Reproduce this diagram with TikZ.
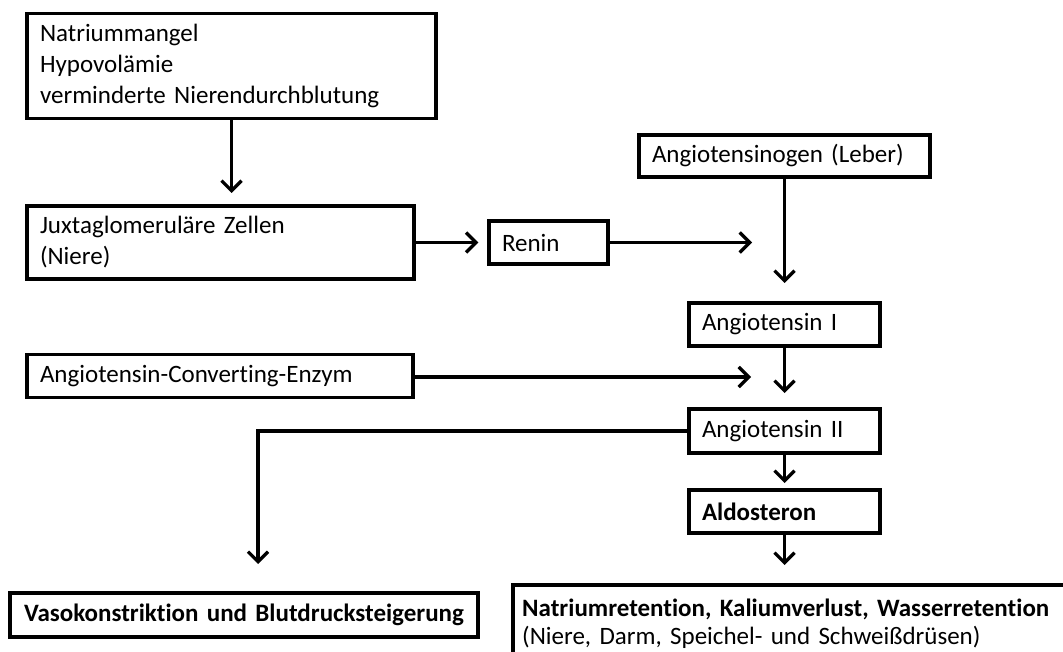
\documentclass[tikz,border=0pt]{standalone}
\usepackage{fontspec}
\setmainfont{Carlito}[Ligatures=CommonOff]
\usetikzlibrary{arrows.meta}
\tikzset{
  box/.style={draw, line width=3.2pt, inner xsep=13pt, inner ysep=0pt, align=left,
              font=\fontsize{25}{31}\selectfont},
  conn/.style={line width=3.3pt, -{Straight Barb[length=10pt,width=20pt]}},
  edge/.style={line width=3.2pt}
}
\begin{document}
\begin{tikzpicture}[x=1pt,y=-1pt]
\useasboundingbox (0,0) rectangle (1063,652);
\clip (0,0) rectangle (1063,652);
\fill[white] (0,0) rectangle (1063,652);

\node[box, minimum width=409, minimum height=105, text width=383] (b1) at (231.5,66)
  {Natriummangel\\Hypovolämie\\verminderte Nierendurchblutung};
\node[box, minimum width=387, minimum height=73, text width=361] (jux) at (220.5,242.5)
  {Juxtaglomeruläre Zellen\\(Niere)};
\node[box, minimum width=119, minimum height=43, text width=93] (ren) at (548.5,242.5) {Renin};
\node[box, minimum width=291, minimum height=42, text width=265] (ango) at (784.5,156)
  {Angiotensinogen (Leber)};
\node[box, minimum width=191, minimum height=43, text width=165] (a1) at (784.5,324.5) {Angiotensin I};
\node[box, minimum width=386, minimum height=43, text width=360] (ace) at (220,376)
  {Angiotensin-Converting-Enzym};
\node[box, minimum width=191, minimum height=44, text width=165] (a2) at (784.5,431) {Angiotensin II};
\node[box, minimum width=191, minimum height=43, text width=165, font=\fontsize{25}{31}\selectfont\bfseries] (aldo) at (784.5,511.5) {Aldosteron};
\node[box, minimum width=468, minimum height=44, text width=460, inner xsep=4pt, align=center, font=\fontsize{25}{31}\selectfont\bfseries] (vaso) at (244,615)
  {Vasokonstriktion und Blutdrucksteigerung};
\node[anchor=north west, text width=580, inner xsep=9pt, inner ysep=14pt, align=left,
      font=\fontsize{25}{28}\selectfont] (nat) at (513,585)
  {\textbf{Natriumretention, Kaliumverlust, Wasserretention}\\(Niere, Darm, Speichel- und Schweißdrüsen)};
\draw[edge] (nat.north west) ++(0,120) -- (nat.north west) -- ++(620,0);

\coordinate (t1) at (b1.south |- 0,193);
\coordinate (t2) at (752,242.5);
\coordinate (t3) at (ango.south |- 0,283);
\coordinate (t4) at (a1.south |- 0,393);
\coordinate (t5) at (751,377);
\coordinate (t6) at (258,564);
\coordinate (t7) at (a2.south |- 0,483);
\coordinate (t8) at (aldo.south |- 0,565);

\draw[conn] (b1.south) -- (t1);
\draw[conn, shorten >=9pt] (jux.east |- ren.west) -- (ren.west);
\draw[conn] (ren.east) -- (t2);
\draw[conn] (ango.south) -- (t3);
\draw[conn] (a1.south) -- (t4);
\draw[conn] (ace.east |- t5) -- (t5);
\draw[conn] (a2.west) -| (t6);
\draw[conn] (a2.south) -- (t7);
\draw[conn] (aldo.south) -- (t8);
\end{tikzpicture}
\end{document}
